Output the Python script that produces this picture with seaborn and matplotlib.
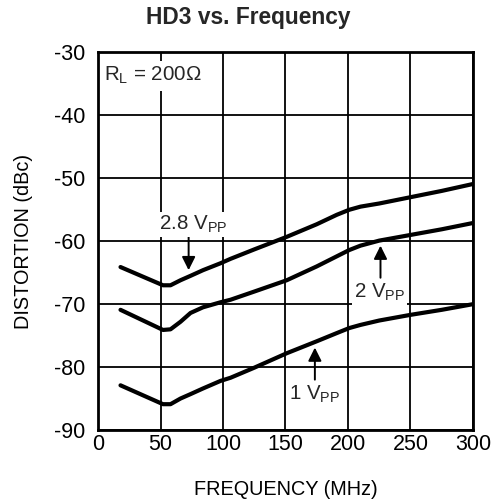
import matplotlib
matplotlib.use("Agg")
import matplotlib.pyplot as plt
import seaborn as sns
import pandas as pd

# ---- data ----
freq_mhz = [18, 52, 58, 66, 74, 84, 98, 106, 125, 151, 175, 191, 201, 210, 225, 250, 275, 300]
hd3_2p8vpp = [-64.1, -67.0, -67.0, -66.2, -65.5, -64.6, -63.5, -62.8, -61.3, -59.3, -57.3,
              -55.8, -55.0, -54.5, -54.0, -53.0, -52.0, -50.9]
hd3_2vpp = [-70.9, -74.1, -74.0, -72.8, -71.4, -70.5, -69.7, -69.3, -68.0, -66.2, -64.0,
            -62.4, -61.4, -60.7, -59.9, -59.0, -58.1, -57.1]
hd3_1vpp = [-82.9, -85.9, -85.9, -85.0, -84.3, -83.4, -82.2, -81.7, -80.1, -77.8, -75.9,
            -74.6, -73.8, -73.3, -72.6, -71.7, -70.9, -70.0]
series_names = ["2.8 Vpp", "2 Vpp", "1 Vpp"]
x_ticks = [0, 50, 100, 150, 200, 250, 300]
y_ticks = [-90, -80, -70, -60, -50, -40, -30]

df = pd.concat([
    pd.DataFrame({"freq": freq_mhz, "hd3": vals, "series": name})
    for name, vals in zip(series_names, [hd3_2p8vpp, hd3_2vpp, hd3_1vpp])
])

sns.set_theme(style="white")
plt.rcParams["font.family"] = ["Liberation Sans", "DejaVu Sans"]
plt.rcParams["mathtext.fontset"] = "custom"
plt.rcParams["mathtext.rm"] = "Liberation Sans"
plt.rcParams["mathtext.it"] = "Liberation Sans"
plt.rcParams["axes.unicode_minus"] = False

fig = plt.figure(figsize=(4.93, 4.99), dpi=100)
ax = fig.add_axes([0.1988, 0.1383, 0.7606, 0.7565])

sns.lineplot(data=df, x="freq", y="hd3", units="series", estimator=None,
             color="black", linewidth=3.0, ax=ax, sort=False)

fs = 15.5
lfs = 14.3
ax.set_xlim(0, 300)
ax.set_ylim(-90, -30)
ax.set_xticks(x_ticks)
ax.set_yticks(y_ticks)
ax.grid(True, color="black", linewidth=1.3)
ax.set_axisbelow(True)
for s in ax.spines.values():
    s.set_color("black")
    s.set_linewidth(2.0)
ax.tick_params(axis="both", length=0, labelsize=fs, colors="black")
ax.tick_params(axis="x", pad=3)
ax.tick_params(axis="y", pad=9)
ax.set_xlabel("FREQUENCY (MHz)", fontsize=lfs, labelpad=18, color="black")
ax.set_ylabel("DISTORTION (dBc)", fontsize=lfs, labelpad=15, color="black")
fig.suptitle("HD3 vs. Frequency", fontsize=16.4, fontweight="bold", x=0.503, y=0.988)

bbox = dict(facecolor="white", edgecolor="none", pad=1.5)
afs = 14.8
ax.text(4.5, -33.7, r"R$_\mathregular{L}$ = 200Ω", fontsize=afs, ha="left", va="center",
        bbox=dict(facecolor="white", edgecolor="none", pad=3))

arrow = dict(arrowstyle="-|>", color="black", lw=1.4, mutation_scale=20, shrinkA=0, shrinkB=0)
ax.annotate("", xy=(72.5, -64.6), xytext=(72.5, -59.3), arrowprops=arrow)
ax.text(76, -57.3, r"2.8 V$_\mathregular{PP}$", fontsize=afs, ha="center", va="center", bbox=bbox)

ax.annotate("", xy=(226, -60.7), xytext=(226, -65.8), arrowprops=arrow)
ax.text(225, -68.2, r"2 V$_\mathregular{PP}$", fontsize=afs, ha="center", va="center", bbox=bbox)

ax.annotate("", xy=(173.5, -76.9), xytext=(173.5, -82.0), arrowprops=arrow)
ax.text(173, -84.3, r"1 V$_\mathregular{PP}$", fontsize=afs, ha="center", va="center", bbox=bbox)

fig.savefig("out.png", dpi=100, facecolor="white")
